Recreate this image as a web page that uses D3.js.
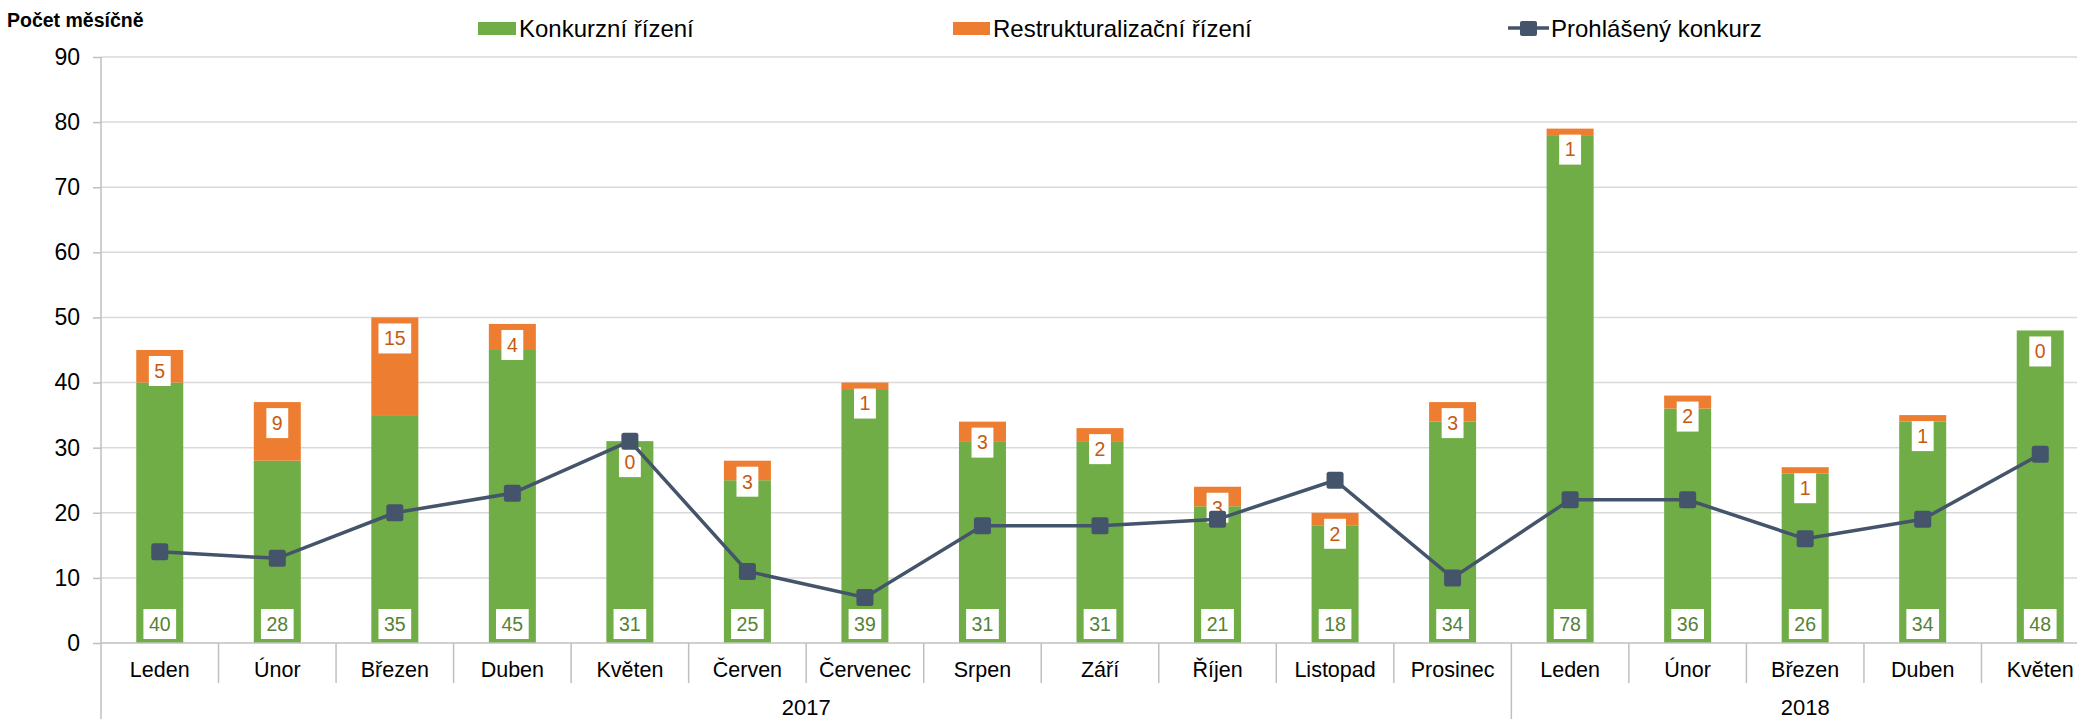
<!DOCTYPE html>
<html>
<head>
<meta charset="utf-8">
<script src="https://cdn.jsdelivr.net/npm/d3@7"></script>
<style>
  body { margin: 0; background: #fff; }
  text { font-family: "Liberation Sans", Arial, sans-serif; }
</style>
</head>
<body>
<svg id="chart" width="2077" height="719"></svg>
<script>
// data
var months = ["Leden", "Únor", "Březen", "Duben", "Květen", "Červen", "Červenec", "Srpen", "Září", "Říjen", "Listopad", "Prosinec",
              "Leden", "Únor", "Březen", "Duben", "Květen"];
var years = ["2017", "2017", "2017", "2017", "2017", "2017", "2017", "2017", "2017", "2017", "2017", "2017",
             "2018", "2018", "2018", "2018", "2018"];
var konkurzni = [40, 28, 35, 45, 31, 25, 39, 31, 31, 21, 18, 34, 78, 36, 26, 34, 48];
var restrukt = [5, 9, 15, 4, 0, 3, 1, 3, 2, 3, 2, 3, 1, 2, 1, 1, 0];
var prohlaseny = [14, 13, 20, 23, 31, 11, 7, 18, 18, 19, 25, 10, 22, 22, 16, 19, 29];
var yTicks = [0, 10, 20, 30, 40, 50, 60, 70, 80, 90];

var seriesNames = ["Konkurzní řízení", "Restrukturalizační řízení", "Prohlášený konkurz"];
var yTitle = "Počet měsíčně";

var green = "#70ad47", orange = "#ed7d31", navy = "#44546a";

var margin = {top: 57, left: 101, bottom: 76},
    width = 1998,
    height = 719 - margin.top - margin.bottom;

var svg = d3.select("#chart");

var keys = months.map(function(m, i) { return years[i] + "-" + i; });
var data = keys.map(function(k, i) {
  return {key: k, month: months[i], year: years[i], k: konkurzni[i], r: restrukt[i], p: prohlaseny[i]};
});

var x = d3.scaleBand().domain(keys).range([0, width]).padding(0);
var y = d3.scaleLinear().domain([0, 90]).range([height, 0]);

var g = svg.append("g")
    .attr("transform", "translate(" + margin.left + "," + margin.top + ")");

// gridlines
g.selectAll(".grid")
  .data(yTicks.filter(function(t) { return t > 0; }))
  .enter().append("line")
    .attr("x1", 0).attr("x2", width)
    .attr("y1", function(d) { return y(d); })
    .attr("y2", function(d) { return y(d); })
    .attr("stroke", "#d9d9d9")
    .attr("stroke-width", 1.5);

// y axis
var yAxis = g.append("g")
    .call(d3.axisLeft(y).tickValues(yTicks).tickSize(8).tickPadding(13));
yAxis.select(".domain").remove();
yAxis.selectAll(".tick line").attr("stroke", "#bfbfbf").attr("stroke-width", 1.5);
yAxis.selectAll(".tick text")
    .attr("font-size", 23)
    .attr("fill", "#000");

g.append("line")
    .attr("x1", 0).attr("x2", 0)
    .attr("y1", 0).attr("y2", 719 - margin.top)
    .attr("stroke", "#bfbfbf").attr("stroke-width", 1.5);

// bars
var bw = x.bandwidth() * 0.4, off = x.bandwidth() * 0.3;

var cols = g.selectAll(".col")
  .data(data)
  .enter().append("g")
    .attr("transform", function(d) { return "translate(" + (x(d.key) + off) + ",0)"; });

cols.append("rect")
    .attr("y", function(d) { return y(d.k); })
    .attr("width", bw)
    .attr("height", function(d) { return height - y(d.k); })
    .attr("fill", green);

cols.append("rect")
    .attr("y", function(d) { return y(d.k + d.r); })
    .attr("width", bw)
    .attr("height", function(d) { return y(d.k) - y(d.k + d.r); })
    .attr("fill", orange);

// x axis line
g.append("line")
    .attr("x1", 0).attr("x2", width)
    .attr("y1", height).attr("y2", height)
    .attr("stroke", "#bfbfbf").attr("stroke-width", 1.5);

// month separators and labels
g.selectAll(".sep")
  .data(keys.slice(1))
  .enter().append("line")
    .attr("x1", function(d) { return x(d); })
    .attr("x2", function(d) { return x(d); })
    .attr("y1", height)
    .attr("y2", function(d, i) { return years[i + 1] !== years[i] ? 719 - margin.top : height + 40; })
    .attr("stroke", "#bfbfbf").attr("stroke-width", 1.5);

g.selectAll(".mlab")
  .data(data)
  .enter().append("text")
    .attr("x", function(d) { return x(d.key) + x.bandwidth() / 2; })
    .attr("y", height + 34)
    .attr("text-anchor", "middle")
    .attr("font-size", 21.5)
    .text(function(d) { return d.month; });

var yearGroups = d3.groups(data, function(d) { return d.year; });
g.selectAll(".ylab")
  .data(yearGroups)
  .enter().append("text")
    .attr("x", function(d) {
      var a = d[1][0].key, b = d[1][d[1].length - 1].key;
      return (x(a) + x(b) + x.bandwidth()) / 2;
    })
    .attr("y", height + 72)
    .attr("text-anchor", "middle")
    .attr("font-size", 22)
    .text(function(d) { return d[0]; });

// line
var cx = function(d) { return x(d.key) + x.bandwidth() / 2; };
g.append("path")
    .datum(data)
    .attr("fill", "none")
    .attr("stroke", navy)
    .attr("stroke-width", 3.5)
    .attr("d", d3.line().x(cx).y(function(d) { return y(d.p); }));

g.selectAll(".mk")
  .data(data)
  .enter().append("rect")
    .attr("x", function(d) { return cx(d) - 8.5; })
    .attr("y", function(d) { return y(d.p) - 8.5; })
    .attr("width", 17).attr("height", 17)
    .attr("rx", 2.5)
    .attr("fill", navy);

// data labels
function label(sel, getY, getText, color) {
  var lg = sel.append("g");
  lg.append("text")
      .attr("x", bw / 2)
      .attr("y", getY)
      .attr("text-anchor", "middle")
      .attr("dy", "0.35em")
      .attr("font-size", 19.5)
      .attr("fill", color)
      .text(getText);
  lg.each(function() {
    var txt = d3.select(this).select("text");
    var w = txt.node().getComputedTextLength() + 11;
    d3.select(this).insert("rect", "text")
        .attr("x", bw / 2 - w / 2)
        .attr("y", +txt.attr("y") - 15)
        .attr("width", w)
        .attr("height", 30)
        .attr("fill", "#fff");
  });
}

label(cols, function(d) { return height - 19; }, function(d) { return d.k; }, "#548235");
label(cols, function(d) { return y(d.k + d.r) + 21; }, function(d) { return d.r; }, "#c55a11");

// title
svg.append("text")
    .attr("x", 7).attr("y", 27)
    .attr("font-size", 19.5)
    .attr("font-weight", "bold")
    .text(yTitle);

// legend
var legend = svg.append("g");
var lg1 = legend.append("g").attr("transform", "translate(478,0)");
lg1.append("rect").attr("x", 0).attr("y", 22).attr("width", 38).attr("height", 13).attr("fill", green);
lg1.append("text").attr("x", 41).attr("y", 37).attr("font-size", 24).text(seriesNames[0]);

var lg2 = legend.append("g").attr("transform", "translate(953,0)");
lg2.append("rect").attr("x", 0).attr("y", 22).attr("width", 37).attr("height", 13).attr("fill", orange);
lg2.append("text").attr("x", 40).attr("y", 37).attr("font-size", 24).text(seriesNames[1]);

var lg3 = legend.append("g").attr("transform", "translate(1508,0)");
lg3.append("line").attr("x1", 0).attr("x2", 41).attr("y1", 28).attr("y2", 28)
    .attr("stroke", navy).attr("stroke-width", 3.5);
lg3.append("rect").attr("x", 12).attr("y", 21).attr("width", 17).attr("height", 15).attr("rx", 2).attr("fill", navy);
lg3.append("text").attr("x", 43).attr("y", 37).attr("font-size", 24).text(seriesNames[2]);
</script>
</body>
</html>
